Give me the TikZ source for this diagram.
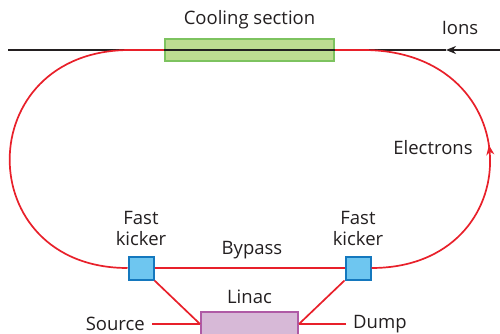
\documentclass[tikz,border=0pt]{standalone}
\usepackage{fontspec}
\setmainfont{Open Sans}
\usetikzlibrary{arrows.meta, positioning, decorations.markings}
\definecolor{beamred}{RGB}{232,32,42}
\definecolor{textgray}{RGB}{35,31,32}
\definecolor{coolgreen}{RGB}{190,220,145}
\definecolor{coolborder}{RGB}{125,195,95}
\definecolor{kickblue}{RGB}{110,198,240}
\definecolor{kickborder}{RGB}{20,120,190}
\definecolor{linacpink}{RGB}{215,185,215}
\definecolor{linacborder}{RGB}{175,90,165}

\begin{document}
\begin{tikzpicture}[
  x=1pt, y=-1pt,
  font=\fontsize{18.5}{20.5}\selectfont, text=textgray,
  box/.style 2 args={rectangle, draw=#1, fill=#2, line width=1.3pt, inner sep=0pt},
  kicker/.style={box={kickborder}{kickblue}, line width=2pt, minimum width=25pt, minimum height=23pt},
  beam/.style={draw=beamred, line width=1.7pt},
  ionbeam/.style={draw=textgray, line width=1.7pt},
  flow/.style={postaction={decorate}, decoration={markings,
    mark=at position 0.53 with {\arrow{Stealth[length=10pt, width=8pt]}}}},
  lbl/.style={inner sep=1pt, align=center}
]
\useasboundingbox (0,0) rectangle (500,334);
\node[box={coolborder}{coolgreen}, minimum width=169pt, minimum height=22pt] (cool) at (249.5,50) {};
\node[kicker] (lk) at (141,268) {};
\node[kicker] (rk) at (358,268) {};
\node[box={linacborder}{linacpink}, line width=2pt, minimum width=97pt, minimum height=24pt] (linac) at (249.5,324) {};
\node[lbl] (coollbl) at (249.5,20) {Cooling section};
\node[lbl] (ions) at (460,28) {Ions};
\node[lbl] (electrons) at (433,148) {Electrons};
\node[lbl, above=9pt of lk] (lklbl) {Fast\\kicker};
\node[lbl, above=9pt of rk] (rklbl) {Fast\\kicker};
\node[lbl] (bypasslbl) at (252,250) {Bypass};
\node[lbl] (linaclbl) at (249.5,297) {Linac};
\node[lbl, anchor=east] (src) at (146,324) {Source};
\node[lbl, anchor=west] (dump) at (352,324) {Dump};
\coordinate (ionin) at (500,50);
\coordinate (ionmark) at (446,50);
\coordinate (ionout) at (8,50);
\coordinate (tl) at (130,50);
\coordinate (tr) at (363,50);

\draw[ionbeam, -{Stealth[length=10pt, width=8pt]}] (ionin) -- (ionmark);
\draw[ionbeam] (ionmark) -- (ionout);
\draw[beam] (tl) -- (cool.west);
\draw[beam] (cool.east) -- (tr);
\draw[beam] (tl) .. controls (-30,50) and (-30,268) .. (lk.west);
\draw[beam, flow] (rk.east) .. controls (531,268) and (531,50) .. (tr);
\draw[beam] (lk) -- (rk);
\draw[beam] (lk.south east) -- (linac.west);
\draw[beam] (rk.south west) -- (linac.east);
\draw[beam, shorten <=6pt] (src.east) -- (linac.west);
\draw[beam, shorten <=6pt] (dump.west) -- (linac.east);
\end{tikzpicture}
\end{document}
